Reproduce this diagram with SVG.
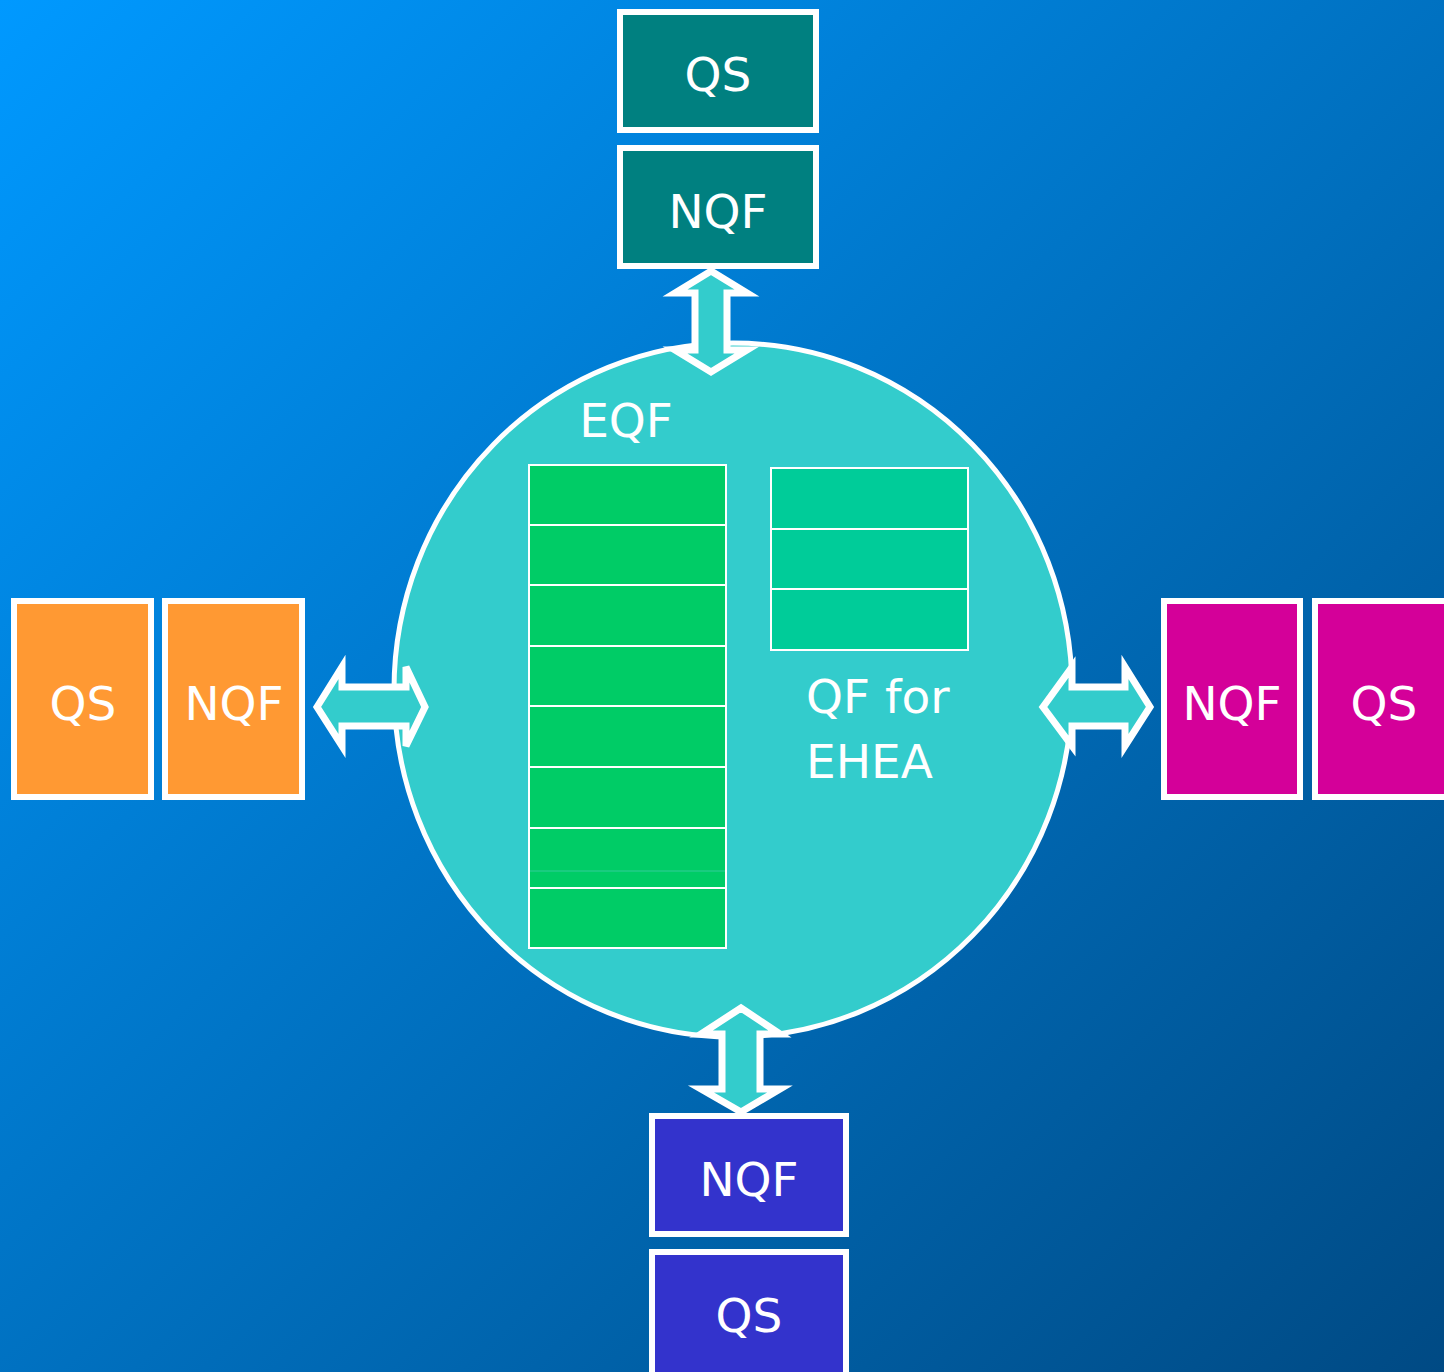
<svg xmlns="http://www.w3.org/2000/svg" width="1444" height="1372" viewBox="0 0 1444 1372">
<defs>
<linearGradient id="bg" x1="0" y1="0" x2="1" y2="1">
<stop offset="0" stop-color="#0099FF"/>
<stop offset="1" stop-color="#004A84"/>
</linearGradient>
</defs>
<style>
.box{stroke:#FFFFFF;stroke-width:6}
.lbl{font-family:"DejaVu Sans","Liberation Sans",sans-serif;font-size:47px;fill:#FFFFFF;text-anchor:middle}
.cell{stroke:#FFFFFF;stroke-width:2}
.arrow{fill:#33CCCC;stroke:#FFFFFF;stroke-width:7;stroke-linejoin:miter}
</style>
<rect width="1444" height="1372" fill="url(#bg)"/>

<g id="circle">
<ellipse cx="733" cy="690" rx="339" ry="347" fill="#33CCCC" stroke="#FFFFFF" stroke-width="5"/>
</g>

<g id="eqf">
<text x="626" y="437" class="lbl">EQF</text>
<g fill="#00CC66" class="cell">
<rect x="529" y="465" width="197" height="60"/>
<rect x="529" y="525" width="197" height="60"/>
<rect x="529" y="585" width="197" height="61"/>
<rect x="529" y="646" width="197" height="60"/>
<rect x="529" y="706" width="197" height="61"/>
<rect x="529" y="767" width="197" height="61"/>
<rect x="529" y="828" width="197" height="60"/>
<rect x="529" y="888" width="197" height="60"/>
</g>
<line x1="530" y1="871" x2="725" y2="871" stroke="#33CC99" stroke-width="1"/>
</g>

<g id="qf-ehea">
<g fill="#00CC99" class="cell">
<rect x="771" y="468" width="197" height="61"/>
<rect x="771" y="529" width="197" height="60"/>
<rect x="771" y="589" width="197" height="61"/>
</g>
<text x="806" y="713" class="lbl" style="text-anchor:start">QF for</text>
<text x="806" y="778" class="lbl" style="text-anchor:start">EHEA</text>
</g>

<g id="connectors">
<polygon class="arrow" points="711,271 747,293 727,293 727,350 747,350 711,372 675,350 695,350 695,293 675,293"/>
<polygon class="arrow" points="741,1008 780,1034 760,1034 760,1089 780,1089 741,1112 701,1089 722,1089 722,1034 701,1034"/>
<polygon class="arrow" points="317,707 342,667 342,687 406,687 406,667 425,707 406,746 406,726 342,726 342,746"/>
<polygon class="arrow" points="1043,707 1072,667 1072,687 1125,687 1125,667 1150,707 1125,746 1125,726 1072,726 1072,746"/>
</g>

<g id="top-qs"><rect class="box" x="620" y="12" width="196" height="118" fill="#008080"/><text x="718" y="91" class="lbl">QS</text></g>
<g id="top-nqf"><rect class="box" x="620" y="148" width="196" height="118" fill="#008080"/><text x="718" y="228" class="lbl">NQF</text></g>

<g id="left-qs"><rect class="box" x="14" y="601" width="137" height="196" fill="#FF9933"/><text x="83" y="720" class="lbl">QS</text></g>
<g id="left-nqf"><rect class="box" x="165" y="601" width="137" height="196" fill="#FF9933"/><text x="234" y="720" class="lbl">NQF</text></g>

<g id="right-nqf"><rect class="box" x="1164" y="601" width="136" height="196" fill="#D40099"/><text x="1232" y="720" class="lbl">NQF</text></g>
<g id="right-qs"><rect class="box" x="1315" y="601" width="140" height="196" fill="#D40099"/><text x="1384" y="720" class="lbl">QS</text></g>

<g id="bottom-nqf"><rect class="box" x="652" y="1116" width="194" height="118" fill="#3333CC"/><text x="749" y="1196" class="lbl">NQF</text></g>
<g id="bottom-qs"><rect class="box" x="652" y="1252" width="194" height="130" fill="#3333CC"/><text x="749" y="1332" class="lbl">QS</text></g>
</svg>
